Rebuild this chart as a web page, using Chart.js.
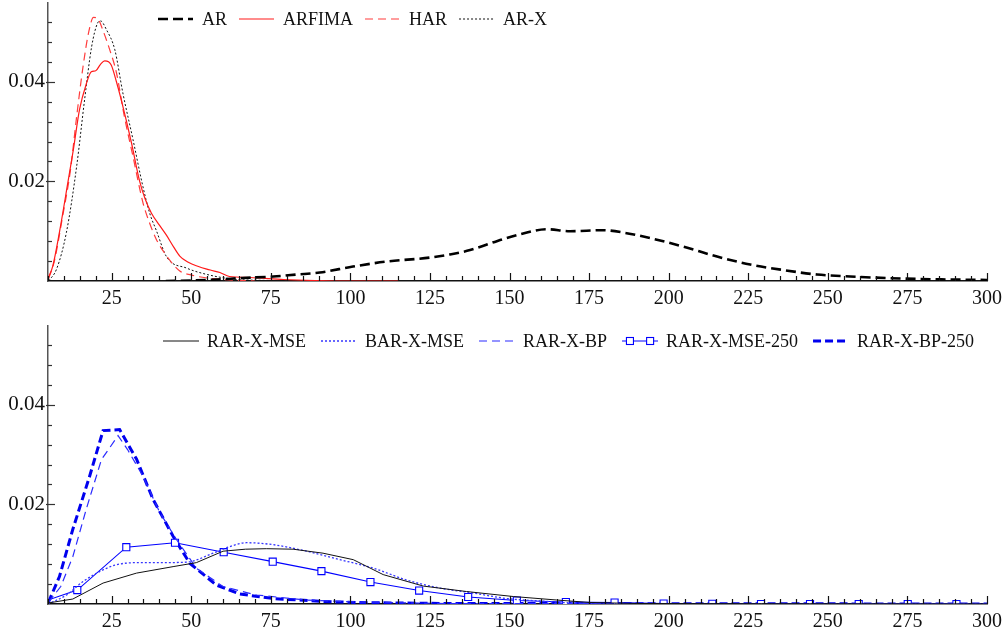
<!DOCTYPE html>
<html>
<head>
<meta charset="UTF-8">
<title>Densities</title>
<script src="https://cdn.jsdelivr.net/npm/chart.js@4.4.0/dist/chart.umd.min.js"></script>
<style>
  body { margin:0; background:#fff; }
  #wrap { position:relative; width:1007px; height:634px; }
  #topBox { position:absolute; left:0; top:0; }
  #botBox { position:absolute; left:0; top:310px; }
</style>
</head>
<body>
<div id="wrap">
  <div id="topBox"><canvas id="topChart" width="1007" height="310"></canvas></div>
  <div id="botBox"><canvas id="botChart" width="1007" height="324"></canvas></div>
</div>
<script>
// tick labels
const xTickLabels = [25,50,75,100,125,150,175,200,225,250,275,300];
const yTickLabels = [0.02,0.04];
const xMinorStep = 5;
const yMinorStep = 0.004;

// ---- top panel ----
const arX = [42,50,58,66,75.8,83,90.4,100.8,111.4,125,131,137.6,146,154,161.7,169,179.4,186.8,194.2,204.6,215.2,225.6,236,246.6,257,272.8,288.5,300];
const arY = [0,0.0001,0.0003,0.0006,0.0009,0.0013,0.0017,0.0029,0.0039,0.0047,0.0053,0.0062,0.008,0.0095,0.0104,0.0100,0.0102,0.0096,0.0086,0.0069,0.0049,0.0033,0.0022,0.0013,0.0009,0.0005,0.0003,0.0002];

const arfimaX = [5.2,6.5,8.6,11.3,13,14.9,17,18.6,20,21.5,22.8,24,24.9,26.5,28,31.2,33.8,35.5,37.5,40,42.2,44.5,46.4,50.6,56,59,62,68.4,79,89,100,115];
const arfimaY = [0.0008,0.003,0.0098,0.02,0.0265,0.0344,0.0395,0.042,0.0422,0.0435,0.0442,0.044,0.0433,0.040,0.0364,0.0278,0.020,0.0165,0.0136,0.0112,0.0092,0.0068,0.005,0.0033,0.0022,0.0017,0.0009,0.0007,0.0003,0.0001,0,0];

const harX = [5.2,7,9.6,12,14,16,17.8,19.3,20.7,22.2,24.4,26.5,29,31.7,34.8,37,39,42.3,46.4,50,55,60,70];
const harY = [0.0005,0.004,0.013,0.022,0.033,0.043,0.050,0.0529,0.0526,0.0504,0.0464,0.0418,0.033,0.025,0.0158,0.0115,0.0084,0.005,0.002,0.0012,0.0006,0.0003,0];

const arxX = [5.2,7.7,10.8,14,16.5,18.7,20.6,21.5,23.4,26,28.5,31.7,34.8,37,39,42.3,48.5,55,63,75,90];
const arxY = [0,0.0024,0.0098,0.023,0.0364,0.047,0.0518,0.0522,0.0504,0.0464,0.0378,0.0284,0.019,0.0135,0.0102,0.0048,0.0026,0.0013,0.0004,0.0001,0];

// ---- bottom panel ----
const rarMseX = [5,12.8,22.3,32.8,44.3,51.6,60,67,73.6,82,91.4,100.9,110.3,122.9,136.5,151.2,164.8,175.3,190,300];
const rarMseY = [0.0002,0.001,0.0042,0.0062,0.0075,0.0083,0.0106,0.011,0.0111,0.011,0.0102,0.0089,0.0059,0.0036,0.0025,0.0015,0.0008,0.0003,0.0001,0];

const barMseX = [5,10.8,16,21.2,26,32.8,39,48.5,56.9,62,67.4,75.8,86.2,96.7,107.2,117.7,128.1,138.6,149.1,159.6,170,185,300];
const barMseY = [0,0.0018,0.0045,0.0065,0.0078,0.0083,0.0083,0.0084,0.0102,0.0115,0.0123,0.0119,0.0106,0.0089,0.0072,0.0048,0.0032,0.0022,0.0011,0.0006,0.0002,0,0];

const rarBpX = [5.1,9,12.8,17,21.8,24,27,30,34.8,40.1,45.3,51.6,60,70.5,86.2,102,130,300];
const rarBpY = [0.0003,0.0035,0.0095,0.019,0.029,0.031,0.0338,0.031,0.0257,0.0184,0.013,0.0072,0.0035,0.0018,0.0008,0.0004,0.0001,0];

const rarMse250X = [5,14.2,29.6,44.9,60.2,75.6,90.9,106.3,121.6,137,152.3,167.7,183,198.4,213.7,229,244.4,259.7,275.1,290.4,300];
const rarMse250Y = [0.0008,0.0028,0.0114,0.0123,0.0104,0.0085,0.0066,0.0044,0.0027,0.0014,0.0007,0.0004,0.0003,0.0001,0.00005,0,0,0,0,0,0];

const rarBp250X = [5.1,8.6,12.8,18.1,22.3,27.5,32.8,38,44.3,49.5,57.9,65.3,75.7,91.4,102,130,300];
const rarBp250Y = [0.0003,0.0055,0.015,0.0257,0.0348,0.035,0.0291,0.021,0.0136,0.0082,0.0038,0.002,0.0011,0.0005,0.0003,0.0001,0];

const pts = (xs, ys) => xs.map((x,i)=>({x:x, y:ys[i]}));

const serif = '"Liberation Serif", "Times New Roman", serif';

// legend drawn inside the plot, like the original
const lineLegend = {
  id: 'lineLegend',
  afterDatasetsDraw(chart, args, opts) {
    const ctx = chart.ctx;
    let x = opts.x;
    const y = opts.y;
    ctx.save();
    ctx.font = '18px ' + serif;
    ctx.textBaseline = 'middle';
    chart.data.datasets.forEach(ds => {
      ctx.strokeStyle = ds.borderColor;
      ctx.lineWidth = ds.borderWidth;
      ctx.setLineDash(ds.borderDash || []);
      ctx.beginPath();
      ctx.moveTo(x, y);
      ctx.lineTo(x + opts.sample, y);
      ctx.stroke();
      if (ds.pointStyle === 'rect') {
        ctx.setLineDash([]);
        ctx.fillStyle = '#fff';
        [0.22, 0.78].forEach(f => {
          const cx = x + opts.sample*f;
          ctx.fillRect(cx-3.5, y-3.5, 7, 7);
          ctx.strokeRect(cx-3.5, y-3.5, 7, 7);
        });
      }
      x += opts.sample + opts.gap;
      ctx.fillStyle = '#111';
      ctx.fillText(ds.label, x, y+1);
      x += ctx.measureText(ds.label).width + opts.space;
    });
    ctx.restore();
  }
};

// inward tick marks
const innerTicks = {
  id: 'innerTicks',
  afterDraw(chart) {
    const ctx = chart.ctx;
    const xs = chart.scales.x, ys = chart.scales.y;
    const a = chart.chartArea;
    ctx.save();
    ctx.lineWidth = 1.2;
    ctx.strokeStyle = '#111';
    for (let v = xs.min; v <= xs.max + 0.001; v += xMinorStep) {
      const px = Math.round(xs.getPixelForValue(v)) + 0.5;
      const major = xTickLabels.includes(Math.round(v));
      ctx.beginPath();
      ctx.moveTo(px, a.bottom);
      ctx.lineTo(px, a.bottom - (major ? 8 : 5));
      ctx.stroke();
    }
    ctx.strokeStyle = '#333';
    for (let v = yMinorStep; v < ys.max; v += yMinorStep) {
      const py = Math.round(ys.getPixelForValue(v)) + 0.5;
      const major = yTickLabels.some(t => Math.abs(t - v) < 1e-6);
      ctx.beginPath();
      ctx.moveTo(a.left - (major ? 2 : 0), py);
      ctx.lineTo(a.left + (major ? 7 : 4), py);
      ctx.stroke();
    }
    ctx.restore();
  }
};

function makeOptions(padTop, xHeight, legendPos) {
  return {
    responsive: false,
    animation: false,
    devicePixelRatio: 1,
    layout: { padding: { left: 0, right: 20, top: padTop, bottom: 0 } },
    plugins: {
      legend: { display: false },
      tooltip: { enabled: false },
      lineLegend: legendPos
    },
    elements: { point: { radius: 0 } },
    scales: {
      x: {
        type: 'linear', min: 5, max: 300,
        afterBuildTicks: s => { s.ticks = xTickLabels.map(v => ({value: v})); },
        afterFit: s => { s.height = xHeight; s.paddingLeft = 0; s.paddingRight = 0; },
        grid: { display: false, drawTicks: false },
        border: { display: true, color: '#111', width: 1.5 },
        ticks: { padding: 6, maxRotation: 0, autoSkip: false, color: '#111', font: { family: serif, size: 20 } }
      },
      y: {
        min: 0, max: 0.0558,
        afterBuildTicks: s => { s.ticks = yTickLabels.map(v => ({value: v})); },
        afterFit: s => { s.width = 48; s.paddingTop = 0; s.paddingBottom = 0; },
        grid: { display: false, drawTicks: false },
        border: { display: true, color: '#555', width: 1.5 },
        ticks: { padding: 3, color: '#111', font: { family: serif, size: 21 }, callback: v => v.toFixed(2) }
      }
    }
  };
}

new Chart(document.getElementById('topChart'), {
  type: 'line',
  data: {
    datasets: [
      { label: 'AR', data: pts(arX, arY), borderColor: '#000', borderWidth: 2.6, borderDash: [10,5], cubicInterpolationMode: 'monotone' },
      { label: 'ARFIMA', data: pts(arfimaX, arfimaY), borderColor: '#ff1a1a', borderWidth: 1.2, cubicInterpolationMode: 'monotone' },
      { label: 'HAR', data: pts(harX, harY), borderColor: '#ff3c3c', borderWidth: 1.2, borderDash: [8,5], cubicInterpolationMode: 'monotone' },
      { label: 'AR-X', data: pts(arxX, arxY), borderColor: '#111', borderWidth: 1, borderDash: [2,2], cubicInterpolationMode: 'monotone' }
    ]
  },
  options: makeOptions(3, 29, { x: 158, y: 19, sample: 35, gap: 9, space: 12 }),
  plugins: [lineLegend, innerTicks]
});

new Chart(document.getElementById('botChart'), {
  type: 'line',
  data: {
    datasets: [
      { label: 'RAR-X-MSE', data: pts(rarMseX, rarMseY), borderColor: '#111', borderWidth: 1, tension: 0 },
      { label: 'BAR-X-MSE', data: pts(barMseX, barMseY), borderColor: '#3535ff', borderWidth: 1.3, borderDash: [2,2], cubicInterpolationMode: 'monotone' },
      { label: 'RAR-X-BP', data: pts(rarBpX, rarBpY), borderColor: '#2a2aff', borderWidth: 1.2, borderDash: [8,5], tension: 0 },
      { label: 'RAR-X-MSE-250', data: pts(rarMse250X, rarMse250Y), borderColor: '#0000ff', borderWidth: 1.1, tension: 0,
        pointStyle: 'rect', pointBackgroundColor: '#fff', pointBorderColor: '#0000ff', pointBorderWidth: 1.1,
        pointRadius: c => (c.dataIndex === 0 || c.dataIndex === rarMse250X.length - 1) ? 0 : 5 },
      { label: 'RAR-X-BP-250', data: pts(rarBp250X, rarBp250Y), borderColor: '#0000ee', borderWidth: 3, borderDash: [8,4], tension: 0 }
    ]
  },
  options: makeOptions(16, 30, { x: 163, y: 31, sample: 36, gap: 8, space: 15 }),
  plugins: [lineLegend, innerTicks]
});
</script>
</body>
</html>
